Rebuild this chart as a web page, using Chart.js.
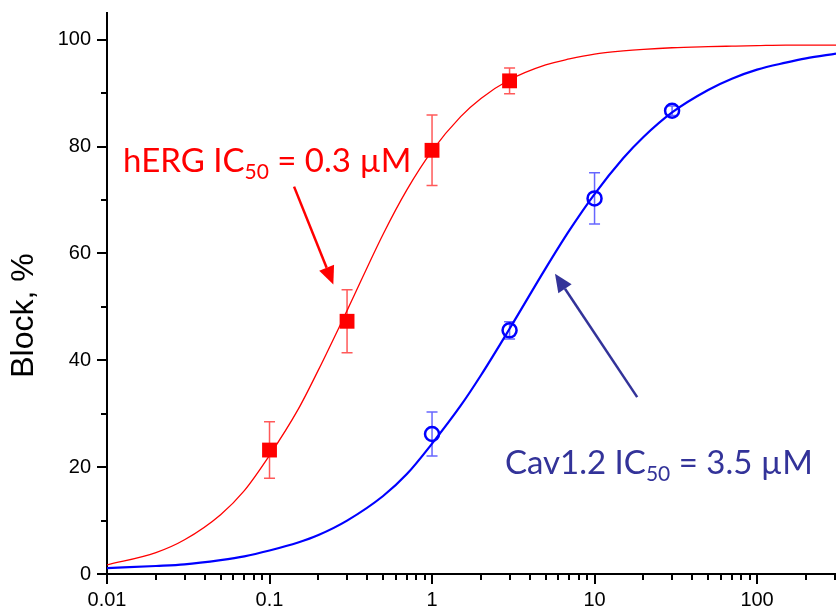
<!DOCTYPE html>
<html>
<head>
<meta charset="utf-8">
<script src="https://cdn.jsdelivr.net/npm/chart.js@4.4.1/dist/chart.umd.min.js"></script>
<style>
  html, body { margin: 0; padding: 0; background: #fff; }
</style>
</head>
<body>
<canvas id="graficoBloqueio" width="836" height="612" style="width: 836px; height: 612px;"></canvas>
<script>
// measured block (%) with error, per concentration (uM)
const concHerg = [0.1, 0.3, 1, 3];
const blockHerg = [23.2, 47.3, 79.3, 92.3];
const errHerg = [5.3, 5.9, 6.6, 2.4];

const concCav = [1, 3, 10, 30];
const blockCav = [26.2, 45.6, 70.3, 86.7];
const errCav = [4.1, 1.6, 4.8, 0.9];

// fitted dose-response curves
const curveConc = [0.01, 0.02, 0.03, 0.05, 0.07, 0.1, 0.15, 0.2, 0.3, 0.5, 0.7, 1, 1.5, 2, 3, 5, 7, 10, 15, 20, 30, 50, 70, 100, 150, 200, 306];
const curveHerg = [1.7, 4.0, 6.4, 11.1, 15.6, 22.2, 30.8, 38.2, 49.3, 63.6, 71.9, 79.2, 85.6, 89.0, 92.5, 95.3, 96.4, 97.3, 97.9, 98.2, 98.5, 98.7, 98.8, 98.9, 99.0, 99.0, 99.0];
const curveCav = [1.1, 1.5, 1.8, 2.6, 3.3, 4.4, 5.9, 7.3, 10.0, 14.6, 18.7, 24.4, 31.5, 37.2, 45.9, 57.2, 64.3, 71.1, 77.8, 81.8, 86.4, 90.6, 92.7, 94.4, 95.7, 96.5, 97.4];

const xTicks = [0.01, 0.1, 1, 10, 100];
const yTicks = [0, 20, 40, 60, 80, 100];

const RED = "#ff0000";
const BLUE = "#0000ff";
const NAVY = "#333399";

function pontos(xs, ys) {
  return xs.map(function (x, i) { return { x: x, y: ys[i] }; });
}

// error bars under the markers
const errorBars = {
  id: "errorBars",
  beforeDatasetsDraw: function (chart) {
    const ctx = chart.ctx;
    const sx = chart.scales.x, sy = chart.scales.y;
    const sets = [
      [concHerg, blockHerg, errHerg, "rgba(255,0,0,0.65)"],
      [concCav, blockCav, errCav, "rgba(0,0,255,0.6)"],
    ];
    ctx.save();
    ctx.lineWidth = 1.5;
    sets.forEach(function (s) {
      ctx.strokeStyle = s[3];
      s[0].forEach(function (c, i) {
        const px = sx.getPixelForValue(c);
        const top = sy.getPixelForValue(s[1][i] + s[2][i]);
        const bot = sy.getPixelForValue(s[1][i] - s[2][i]);
        ctx.beginPath();
        ctx.moveTo(px, top); ctx.lineTo(px, bot);
        ctx.moveTo(px - 5.5, top); ctx.lineTo(px + 5.5, top);
        ctx.moveTo(px - 5.5, bot); ctx.lineTo(px + 5.5, bot);
        ctx.stroke();
      });
    });
    ctx.restore();
  },
};

// outward tick marks, majors and minors, plus the y title
const axisTicks = {
  id: "axisTicks",
  afterDraw: function (chart) {
    const ctx = chart.ctx;
    const sx = chart.scales.x, sy = chart.scales.y;
    const area = chart.chartArea;
    ctx.save();
    ctx.strokeStyle = "#000";
    ctx.lineWidth = 2;
    ctx.beginPath();
    for (let v = 0; v <= 100; v += 10) {
      const py = Math.round(sy.getPixelForValue(v));
      const len = v % 20 === 0 ? 10 : 6;
      ctx.moveTo(area.left, py); ctx.lineTo(area.left - len, py);
    }
    for (let e = -2; e <= 2; e++) {
      for (let m = 1; m <= 9; m++) {
        const v = m * Math.pow(10, e);
        if (v > sx.max) break;
        const px = Math.round(sx.getPixelForValue(v));
        const len = m === 1 ? 10 : 6;
        ctx.moveTo(px, area.bottom); ctx.lineTo(px, area.bottom + len);
      }
    }
    ctx.stroke();

    ctx.translate(33, 315.5);
    ctx.rotate(-Math.PI / 2);
    ctx.fillStyle = "#000";
    ctx.font = "32px 'Liberation Sans'";
    ctx.textAlign = "center";
    ctx.textBaseline = "alphabetic";
    ctx.fillText("Block, %", 0, 0);
    ctx.restore();
  },
};

function seta(ctx, x1, y1, x2, y2, cor) {
  const ang = Math.atan2(y2 - y1, x2 - x1);
  const head = 18, half = 8;
  const bx = x2 - head * Math.cos(ang), by = y2 - head * Math.sin(ang);
  ctx.strokeStyle = cor;
  ctx.fillStyle = cor;
  ctx.lineWidth = 2.5;
  ctx.beginPath();
  ctx.moveTo(x1, y1); ctx.lineTo(bx, by);
  ctx.stroke();
  ctx.beginPath();
  ctx.moveTo(x2, y2);
  ctx.lineTo(bx + half * Math.sin(ang), by - half * Math.cos(ang));
  ctx.lineTo(bx - half * Math.sin(ang), by + half * Math.cos(ang));
  ctx.closePath();
  ctx.fill();
}

function rotuloIC50(ctx, x, y, antes, depois, cor) {
  const size = 33;
  ctx.fillStyle = cor;
  ctx.textBaseline = "alphabetic";
  ctx.textAlign = "left";
  ctx.font = size + "px Lato";
  ctx.fillText(antes, x, y);
  x += ctx.measureText(antes).width;
  ctx.font = Math.round(size * 0.64) + "px Lato";
  ctx.fillText("50", x, y + 7);
  x += ctx.measureText("50").width;
  ctx.font = size + "px Lato";
  ctx.fillText(depois, x, y);
}

// IC50 labels with arrows, anchored in data units
const anotacoes = {
  id: "anotacoes",
  afterDraw: function (chart) {
    const ctx = chart.ctx;
    const sx = chart.scales.x, sy = chart.scales.y;
    ctx.save();
    seta(ctx, sx.getPixelForValue(0.1416), sy.getPixelForValue(72.5),
      sx.getPixelForValue(0.247), sy.getPixelForValue(54.2), RED);
    seta(ctx, sx.getPixelForValue(18.3), sy.getPixelForValue(33.1),
      sx.getPixelForValue(5.71), sy.getPixelForValue(56.2), NAVY);
    rotuloIC50(ctx, sx.getPixelForValue(0.01255), sy.getPixelForValue(75.2),
      "hERG IC", " = 0.3 \u00b5M", RED);
    rotuloIC50(ctx, sx.getPixelForValue(2.81), sy.getPixelForValue(18.8),
      "Cav1.2 IC", " = 3.5 \u00b5M", NAVY);
    ctx.restore();
  },
};

const ctx = document.getElementById("graficoBloqueio").getContext("2d");

const grafico = new Chart(ctx, {
  type: "scatter",
  data: {
    datasets: [
      {
        label: "hERG",
        data: pontos(concHerg, blockHerg),
        pointStyle: "rect",
        pointRadius: 10.5,
        backgroundColor: RED,
        borderColor: RED,
        borderWidth: 0,
        order: 0,
      },
      {
        label: "Cav1.2",
        data: pontos(concCav, blockCav),
        pointStyle: "circle",
        pointRadius: 7,
        backgroundColor: "rgba(0,0,0,0)",
        borderColor: BLUE,
        borderWidth: 2.5,
        order: 0,
      },
      {
        label: "hERG fit",
        data: pontos(curveConc, curveHerg),
        showLine: true,
        pointRadius: 0,
        borderColor: RED,
        borderWidth: 1.3,
        cubicInterpolationMode: "monotone",
        order: 1,
      },
      {
        label: "Cav1.2 fit",
        data: pontos(curveConc, curveCav),
        showLine: true,
        pointRadius: 0,
        borderColor: BLUE,
        borderWidth: 2.2,
        cubicInterpolationMode: "monotone",
        order: 1,
      },
    ],
  },
  options: {
    responsive: false,
    animation: false,
    layout: { autoPadding: false, padding: { top: 13, right: 0, left: 0, bottom: 0 } },
    plugins: {
      legend: { display: false },
      tooltip: { enabled: false },
    },
    scales: {
      x: {
        type: "logarithmic",
        min: 0.01,
        max: 306,
        afterBuildTicks: function (scale) {
          scale.ticks = xTicks.map(function (v) { return { value: v }; });
        },
        afterFit: function (scale) {
          scale.height = 38;
          scale.paddingLeft = 0;
          scale.paddingRight = 0;
        },
        ticks: {
          callback: function (v) { return String(v); },
          color: "#000",
          font: { family: "Liberation Sans", size: 20 },
          padding: 14,
          maxRotation: 0,
          autoSkip: false,
        },
        grid: { display: true, drawOnChartArea: false, drawTicks: false, color: "rgba(0,0,0,0)" },
        border: { color: "#000", width: 2 },
      },
      y: {
        min: 0,
        max: 105,
        afterBuildTicks: function (scale) {
          scale.ticks = yTicks.map(function (v) { return { value: v }; });
        },
        afterFit: function (scale) {
          scale.width = 107;
          scale.paddingTop = 0;
          scale.paddingBottom = 0;
        },
        ticks: {
          color: "#000",
          font: { family: "Liberation Sans", size: 20 },
          padding: 16,
        },
        grid: { display: true, drawOnChartArea: false, drawTicks: false, color: "rgba(0,0,0,0)" },
        border: { color: "#000", width: 2 },
      },
    },
  },
  plugins: [errorBars, axisTicks, anotacoes],
});
</script>
</body>
</html>
